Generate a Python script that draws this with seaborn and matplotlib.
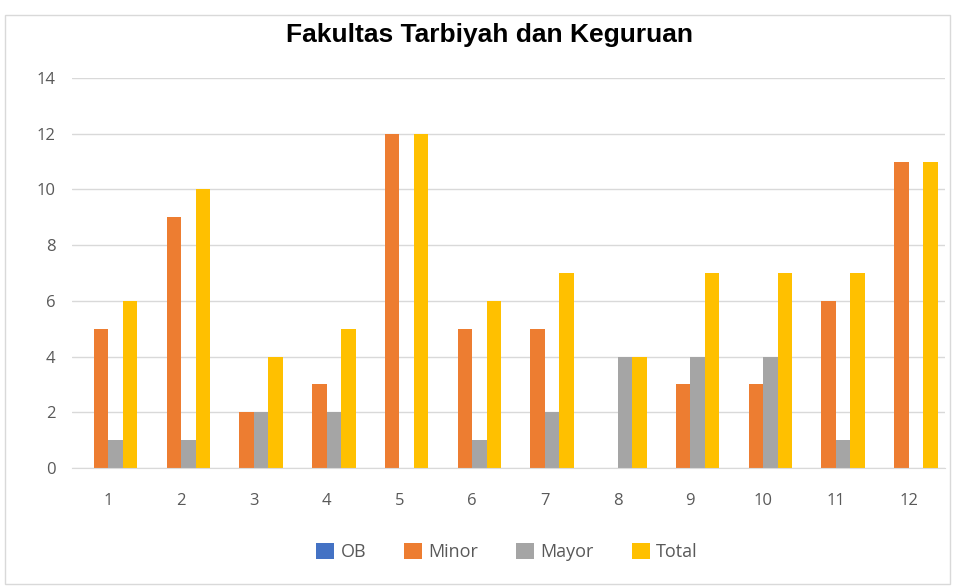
import pandas as pd
import matplotlib.pyplot as plt
import seaborn as sns

# data
categories = [str(i) for i in range(1, 13)]
ob = [0] * 12
minor = [5, 9, 2, 3, 12, 5, 5, 0, 3, 3, 6, 11]
mayor = [1, 1, 2, 2, 0, 1, 2, 4, 4, 4, 1, 0]
total = [6, 10, 4, 5, 12, 6, 7, 4, 7, 7, 7, 11]
series_names = ['OB', 'Minor', 'Mayor', 'Total']
colors = ['#4472C4', '#ED7D31', '#A5A5A5', '#FFC000']

df = pd.DataFrame({'kategori': categories, 'OB': ob, 'Minor': minor,
                   'Mayor': mayor, 'Total': total})
long_df = df.melt(id_vars='kategori', var_name='seri', value_name='nilai')

sns.set_style('white')
plt.rcParams['font.family'] = ['Open Sans', 'DejaVu Sans']

fig = plt.figure(figsize=(9.55, 5.87), dpi=100)
ax = fig.add_axes([0.0754, 0.2027, 0.9141, 0.6643])

sns.barplot(data=long_df, x='kategori', y='nilai', hue='seri',
            hue_order=series_names, palette=colors, width=0.8,
            saturation=1, linewidth=0, ax=ax, legend=True)

ax.set_xlim(-0.5, 11.5)
ax.set_ylim(0, 14)
ax.set_yticks(range(0, 15, 2))
ax.grid(axis='y', color='#D9D9D9', linewidth=1)
ax.set_axisbelow(True)
for s in ['top', 'right', 'left']:
    ax.spines[s].set_visible(False)
ax.spines['bottom'].set_color('#D9D9D9')
ax.tick_params(axis='both', length=0, labelsize=12, colors='#595959')
ax.tick_params(axis='y', pad=12)
ax.tick_params(axis='x', pad=18)
ax.set_xlabel('')
ax.set_ylabel('')

handles, labels = ax.get_legend_handles_labels()
ax.legend_.remove()
fig.legend(handles, labels, loc='center', bbox_to_anchor=(0.531, 0.06),
           ncol=4, frameon=False, fontsize=13, handlelength=1.0,
           handleheight=1.0, columnspacing=2.1, handletextpad=0.35,
           labelcolor='#595959')

fig.text(0.513, 0.94, 'Fakultas Tarbiyah dan Keguruan', ha='center',
         va='center', fontsize=19, fontweight='bold', color='black',
         family=['Liberation Sans', 'DejaVu Sans'])

# outer chart border
fig.patches.append(plt.Rectangle((0.005, 0.005), 0.99, 0.97,
                                 transform=fig.transFigure, fill=False,
                                 edgecolor='#D9D9D9', linewidth=1))

fig.savefig('out.png', dpi=100)
